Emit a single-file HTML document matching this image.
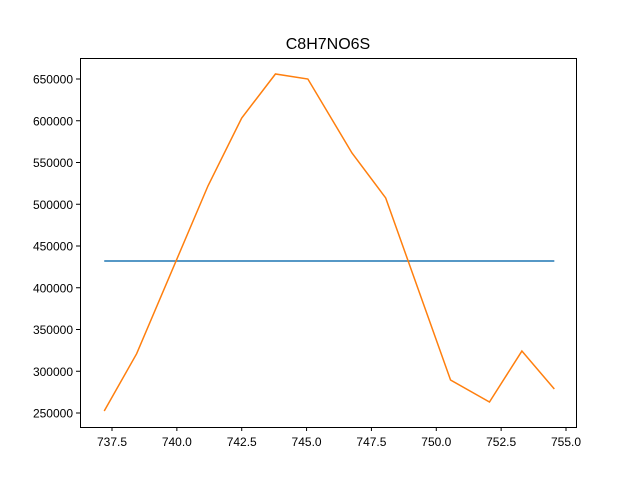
<!DOCTYPE html>
<html><head><meta charset="utf-8"><style>body{margin:0;background:#fff}svg{display:block;font-family:"Liberation Sans","DejaVu Sans",sans-serif}</style></head>
<body>
<svg width="640" height="480">
<rect width="640" height="480" fill="#fff"/>
<text x="328" y="49" font-size="16" text-anchor="middle">C8H7NO6S</text>
<g id="plot"></g>
<rect x="80.5" y="58.5" width="496" height="369" fill="none" stroke="#000" stroke-width="1"/>
</svg>
<script>
const orangeX=[737.2,738.45,741.2,742.5,743.8,745.05,746.75,748.05,750.55,752.05,753.3,754.55];
const orangeY=[252400,321000,522000,603300,656000,650000,561400,507500,289500,263200,324200,278700];
const blueX=[737.2,754.55];
const blueY=[432000,432000];
const xTicks=[737.5,740.0,742.5,745.0,747.5,750.0,752.5,755.0];
const yTicks=[250000,300000,350000,400000,450000,500000,550000,600000,650000];
function sx(v){return 112+(v-737.5)*(454/17.5);}
function sy(v){return 79+(650000-v)*(334/400000);}
const g=document.getElementById('plot');
const NS='http://www.w3.org/2000/svg';
function mk(t,a){const e=document.createElementNS(NS,t);for(const k in a)e.setAttribute(k,a[k]);g.appendChild(e);return e;}
xTicks.forEach(v=>{const x=sx(v);
const l=mk('line',{x1:x,x2:x,y1:427,y2:431,stroke:'#000'});


const t=mk('text',{x:x,y:446,'font-size':12,'text-anchor':'middle'});t.textContent=v.toFixed(1);

});
yTicks.forEach(v=>{const y=sy(v);
const l=mk('line',{x1:76,x2:80,y1:y,y2:y,stroke:'#000'});


const t=mk('text',{x:73,y:y+4.5,'font-size':12,'text-anchor':'end'});t.textContent=v;

});
function line(xs,ys,c,n){const p=mk('polyline',{points:xs.map((x,i)=>sx(x)+','+sy(ys[i])).join(' '),fill:'none',stroke:c,'stroke-width':1.5});

}
line(blueX,blueY,'#1f77b4','blue-series-line');
line(orangeX,orangeY,'#ff7f0e','orange-series-line');
</script>
</body></html>
